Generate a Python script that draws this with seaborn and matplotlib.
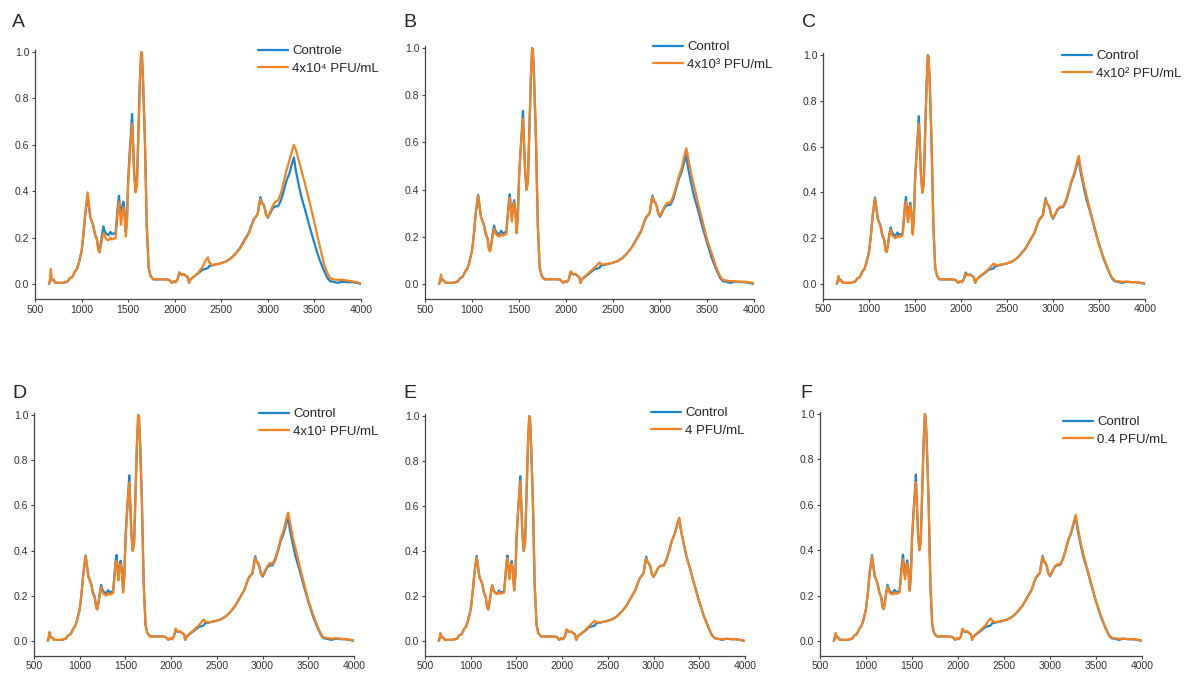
import matplotlib
matplotlib.use('Agg')
import matplotlib.pyplot as plt
import seaborn as sns
import pandas as pd

# wavenumber grid (cm-1)
wavenumber = [650, 660, 670, 680, 700, 720, 760, 800, 850, 875,
              900, 930, 950, 970, 1000, 1020, 1040, 1055, 1065, 1080,
              1095, 1110, 1125, 1145, 1165, 1180, 1192, 1205, 1220, 1235,
              1250, 1270, 1290, 1310, 1325, 1345, 1365, 1380, 1392, 1402,
              1412, 1424, 1436, 1448, 1460, 1475, 1488, 1500, 1515, 1530,
              1542, 1552, 1565, 1580, 1595, 1610, 1625, 1640, 1648, 1660,
              1680, 1700, 1720, 1740, 1770, 1800, 1850, 1900, 1940, 1970,
              1990, 2010, 2030, 2050, 2065, 2080, 2100, 2120, 2140, 2155,
              2170, 2200, 2250, 2300, 2330, 2355, 2370, 2400, 2450, 2500,
              2550, 2600, 2650, 2700, 2750, 2800, 2830, 2850, 2870, 2890,
              2905, 2920, 2935, 2950, 2965, 2980, 3000, 3020, 3050, 3080,
              3110, 3140, 3170, 3200, 3230, 3260, 3280, 3300, 3330, 3360,
              3400, 3450, 3500, 3550, 3600, 3640, 3670, 3700, 3750, 3800,
              3850, 3900, 3950, 4000]

control = [0.000, 0.015, 0.030, 0.020, 0.015, 0.005, 0.005, 0.005, 0.010, 0.025,
           0.030, 0.055, 0.065, 0.090, 0.140, 0.210, 0.300, 0.345, 0.378, 0.330,
           0.285, 0.270, 0.255, 0.215, 0.195, 0.150, 0.140, 0.170, 0.215, 0.248,
           0.225, 0.215, 0.210, 0.225, 0.215, 0.218, 0.220, 0.290, 0.350, 0.380,
           0.330, 0.280, 0.330, 0.355, 0.320, 0.225, 0.290, 0.450, 0.560, 0.650,
           0.733, 0.620, 0.480, 0.400, 0.440, 0.650, 0.860, 1.000, 0.990, 0.880,
           0.620, 0.250, 0.070, 0.035, 0.020, 0.020, 0.020, 0.020, 0.018, 0.005,
           0.012, 0.008, 0.020, 0.050, 0.042, 0.040, 0.042, 0.035, 0.030, 0.005,
           0.020, 0.030, 0.045, 0.062, 0.065, 0.068, 0.078, 0.080, 0.085, 0.090,
           0.097, 0.110, 0.130, 0.155, 0.190, 0.225, 0.260, 0.280, 0.290, 0.300,
           0.340, 0.375, 0.350, 0.345, 0.330, 0.300, 0.285, 0.300, 0.325, 0.335,
           0.335, 0.360, 0.400, 0.445, 0.475, 0.520, 0.545, 0.490, 0.430, 0.375,
           0.320, 0.245, 0.175, 0.110, 0.060, 0.025, 0.012, 0.010, 0.005, 0.010,
           0.008, 0.008, 0.005, 0.000]

pfu_4e4 = [0.000, 0.010, 0.065, 0.015, 0.020, 0.005, 0.005, 0.005, 0.012, 0.025,
           0.030, 0.055, 0.065, 0.090, 0.140, 0.215, 0.310, 0.360, 0.395, 0.340,
           0.285, 0.270, 0.250, 0.210, 0.190, 0.145, 0.135, 0.160, 0.195, 0.222,
           0.205, 0.192, 0.188, 0.200, 0.192, 0.195, 0.198, 0.270, 0.330, 0.355,
           0.310, 0.255, 0.305, 0.330, 0.295, 0.205, 0.270, 0.430, 0.540, 0.630,
           0.690, 0.600, 0.470, 0.395, 0.430, 0.640, 0.860, 1.000, 0.985, 0.880,
           0.620, 0.250, 0.070, 0.035, 0.020, 0.020, 0.020, 0.020, 0.018, 0.005,
           0.012, 0.008, 0.020, 0.050, 0.042, 0.040, 0.042, 0.035, 0.030, 0.005,
           0.020, 0.030, 0.048, 0.075, 0.100, 0.115, 0.095, 0.082, 0.085, 0.090,
           0.097, 0.110, 0.128, 0.152, 0.185, 0.222, 0.255, 0.278, 0.288, 0.300,
           0.335, 0.365, 0.345, 0.345, 0.330, 0.300, 0.288, 0.305, 0.335, 0.355,
           0.360, 0.390, 0.440, 0.490, 0.530, 0.575, 0.600, 0.580, 0.535, 0.490,
           0.430, 0.350, 0.265, 0.175, 0.090, 0.045, 0.025, 0.020, 0.018, 0.018,
           0.015, 0.012, 0.008, 0.003]

pfu_4e3 = [0.000, 0.010, 0.040, 0.015, 0.015, 0.005, 0.005, 0.005, 0.012, 0.025,
           0.030, 0.055, 0.065, 0.090, 0.140, 0.210, 0.300, 0.345, 0.375, 0.330,
           0.285, 0.268, 0.250, 0.210, 0.190, 0.145, 0.138, 0.165, 0.205, 0.235,
           0.215, 0.205, 0.200, 0.212, 0.205, 0.208, 0.212, 0.280, 0.340, 0.365,
           0.320, 0.265, 0.320, 0.345, 0.310, 0.215, 0.280, 0.440, 0.550, 0.640,
           0.700, 0.610, 0.475, 0.398, 0.435, 0.645, 0.860, 1.000, 0.990, 0.880,
           0.620, 0.250, 0.070, 0.035, 0.020, 0.020, 0.020, 0.020, 0.018, 0.005,
           0.012, 0.008, 0.020, 0.055, 0.045, 0.042, 0.042, 0.035, 0.030, 0.005,
           0.020, 0.032, 0.050, 0.068, 0.080, 0.092, 0.085, 0.082, 0.086, 0.090,
           0.097, 0.110, 0.130, 0.155, 0.190, 0.225, 0.262, 0.282, 0.292, 0.302,
           0.340, 0.370, 0.350, 0.345, 0.330, 0.302, 0.290, 0.305, 0.330, 0.345,
           0.345, 0.370, 0.410, 0.455, 0.490, 0.545, 0.575, 0.535, 0.470, 0.420,
           0.350, 0.270, 0.190, 0.130, 0.070, 0.032, 0.018, 0.015, 0.012, 0.012,
           0.010, 0.010, 0.008, 0.003]

pfu_4e2 = [0.000, 0.010, 0.035, 0.015, 0.015, 0.005, 0.005, 0.005, 0.012, 0.025,
           0.030, 0.055, 0.065, 0.090, 0.140, 0.210, 0.300, 0.345, 0.372, 0.330,
           0.285, 0.268, 0.250, 0.210, 0.190, 0.145, 0.140, 0.168, 0.208, 0.238,
           0.215, 0.205, 0.200, 0.212, 0.205, 0.208, 0.212, 0.280, 0.340, 0.360,
           0.320, 0.270, 0.320, 0.345, 0.310, 0.215, 0.285, 0.440, 0.550, 0.640,
           0.700, 0.610, 0.475, 0.398, 0.435, 0.645, 0.860, 1.000, 0.990, 0.880,
           0.620, 0.250, 0.070, 0.035, 0.020, 0.020, 0.020, 0.020, 0.018, 0.005,
           0.012, 0.008, 0.020, 0.045, 0.040, 0.038, 0.040, 0.035, 0.030, 0.005,
           0.020, 0.032, 0.048, 0.065, 0.078, 0.090, 0.085, 0.082, 0.086, 0.090,
           0.097, 0.110, 0.130, 0.155, 0.190, 0.225, 0.262, 0.282, 0.292, 0.300,
           0.340, 0.370, 0.350, 0.345, 0.330, 0.300, 0.290, 0.303, 0.328, 0.338,
           0.338, 0.365, 0.405, 0.450, 0.482, 0.530, 0.560, 0.510, 0.445, 0.395,
           0.328, 0.250, 0.168, 0.115, 0.062, 0.028, 0.015, 0.012, 0.010, 0.010,
           0.008, 0.008, 0.006, 0.003]

pfu_4e1 = [0.000, 0.010, 0.040, 0.015, 0.015, 0.005, 0.005, 0.005, 0.012, 0.025,
           0.030, 0.055, 0.065, 0.090, 0.140, 0.210, 0.300, 0.345, 0.375, 0.330,
           0.285, 0.268, 0.250, 0.210, 0.190, 0.145, 0.140, 0.168, 0.208, 0.238,
           0.215, 0.205, 0.200, 0.212, 0.205, 0.208, 0.212, 0.280, 0.338, 0.355,
           0.318, 0.268, 0.318, 0.342, 0.308, 0.215, 0.285, 0.440, 0.550, 0.640,
           0.700, 0.610, 0.475, 0.398, 0.435, 0.645, 0.860, 1.000, 0.990, 0.880,
           0.620, 0.250, 0.070, 0.035, 0.020, 0.020, 0.020, 0.020, 0.018, 0.005,
           0.012, 0.008, 0.020, 0.055, 0.045, 0.042, 0.042, 0.035, 0.030, 0.005,
           0.020, 0.032, 0.050, 0.068, 0.082, 0.095, 0.088, 0.082, 0.086, 0.090,
           0.097, 0.110, 0.130, 0.155, 0.190, 0.225, 0.262, 0.282, 0.292, 0.302,
           0.340, 0.370, 0.350, 0.345, 0.330, 0.302, 0.290, 0.305, 0.330, 0.345,
           0.342, 0.368, 0.408, 0.455, 0.490, 0.540, 0.568, 0.525, 0.460, 0.410,
           0.340, 0.260, 0.180, 0.120, 0.065, 0.030, 0.016, 0.014, 0.010, 0.012,
           0.010, 0.008, 0.006, 0.003]

pfu_4 = [0.000, 0.010, 0.035, 0.015, 0.015, 0.005, 0.005, 0.005, 0.010, 0.025,
         0.030, 0.055, 0.065, 0.090, 0.140, 0.210, 0.300, 0.345, 0.370, 0.330,
         0.285, 0.270, 0.255, 0.215, 0.195, 0.148, 0.140, 0.170, 0.212, 0.245,
         0.222, 0.212, 0.208, 0.218, 0.210, 0.212, 0.215, 0.285, 0.348, 0.368,
         0.325, 0.275, 0.325, 0.342, 0.315, 0.225, 0.290, 0.450, 0.555, 0.645,
         0.710, 0.615, 0.478, 0.400, 0.440, 0.650, 0.860, 1.000, 0.990, 0.880,
         0.620, 0.250, 0.070, 0.035, 0.020, 0.020, 0.020, 0.020, 0.018, 0.005,
         0.012, 0.008, 0.020, 0.052, 0.044, 0.040, 0.042, 0.035, 0.030, 0.005,
         0.020, 0.030, 0.048, 0.068, 0.080, 0.090, 0.085, 0.082, 0.085, 0.090,
         0.097, 0.110, 0.130, 0.155, 0.190, 0.225, 0.260, 0.280, 0.290, 0.300,
         0.340, 0.368, 0.350, 0.345, 0.330, 0.300, 0.285, 0.300, 0.325, 0.335,
         0.335, 0.360, 0.400, 0.445, 0.475, 0.520, 0.548, 0.495, 0.432, 0.378,
         0.318, 0.245, 0.172, 0.112, 0.060, 0.025, 0.012, 0.010, 0.008, 0.010,
         0.008, 0.008, 0.005, 0.000]

pfu_04 = [0.000, 0.010, 0.035, 0.015, 0.015, 0.005, 0.005, 0.005, 0.010, 0.025,
          0.030, 0.055, 0.065, 0.090, 0.140, 0.210, 0.300, 0.345, 0.372, 0.330,
          0.285, 0.270, 0.252, 0.212, 0.192, 0.148, 0.140, 0.168, 0.210, 0.240,
          0.218, 0.208, 0.205, 0.215, 0.208, 0.210, 0.214, 0.282, 0.342, 0.360,
          0.320, 0.272, 0.322, 0.342, 0.312, 0.220, 0.288, 0.445, 0.550, 0.640,
          0.700, 0.612, 0.476, 0.400, 0.438, 0.648, 0.860, 1.000, 0.990, 0.880,
          0.620, 0.250, 0.070, 0.035, 0.020, 0.020, 0.020, 0.020, 0.018, 0.005,
          0.012, 0.008, 0.020, 0.055, 0.045, 0.042, 0.042, 0.035, 0.030, 0.005,
          0.020, 0.032, 0.050, 0.070, 0.088, 0.100, 0.090, 0.082, 0.086, 0.090,
          0.097, 0.110, 0.130, 0.155, 0.190, 0.225, 0.262, 0.282, 0.292, 0.300,
          0.340, 0.370, 0.350, 0.345, 0.330, 0.300, 0.288, 0.302, 0.328, 0.338,
          0.338, 0.362, 0.402, 0.448, 0.480, 0.528, 0.555, 0.505, 0.440, 0.388,
          0.325, 0.250, 0.172, 0.115, 0.062, 0.028, 0.014, 0.012, 0.010, 0.010,
          0.008, 0.008, 0.006, 0.002]

panel_letters = ['A', 'B', 'C', 'D', 'E', 'F']
control_labels = ['Controle', 'Control', 'Control', 'Control', 'Control', 'Control']
treat_labels = ['4x10\u2074 PFU/mL', '4x10\u00b3 PFU/mL', '4x10\u00b2 PFU/mL',
                '4x10\u00b9 PFU/mL', '4 PFU/mL', '0.4 PFU/mL']
treatments = [pfu_4e4, pfu_4e3, pfu_4e2, pfu_4e1, pfu_4, pfu_04]

sns.set_style('ticks')
plt.rcParams['font.family'] = ['Liberation Sans', 'DejaVu Sans']

W, H = 1187, 673
fig = plt.figure(figsize=(W / 100, H / 100), dpi=100)

YLO, YHI = -0.065, 1.01
# pixel spots: x of 500 / 4000 ticks, y of 0.0 / 1.0 ticks
spots = [(35, 361, 284, 52), (425, 754, 284, 48), (823, 1145, 284, 55),
         (34, 354, 641, 415), (425, 745, 641, 416), (820, 1142, 641, 414)]
letter_pos = [(12, 27), (403, 27), (802, 27), (12, 398), (403, 398), (800, 398)]
# legend: x where the handle starts, y of the first row centre
legend_pos = [(258, 50), (653, 46), (1062, 55), (259, 413), (651, 412), (1063, 421)]

blue = '#1b84cf'
orange = '#f5821f'

for i in range(6):
    x5, x40, y0, y1 = spots[i]
    unit = y0 - y1
    top = y1 - (YHI - 1.0) * unit
    bot = y0 - YLO * unit
    ax = fig.add_axes([x5 / W, 1 - bot / H, (x40 - x5) / W, (bot - top) / H])
    df = pd.DataFrame({'wavenumber': wavenumber, 'control': control, 'treat': treatments[i]})
    sns.lineplot(data=df, x='wavenumber', y='control', ax=ax, color=blue, lw=1.6,
                 label=control_labels[i])
    sns.lineplot(data=df, x='wavenumber', y='treat', ax=ax, color=orange, lw=1.6,
                 label=treat_labels[i])
    ax.set_xlim(500, 4000)
    ax.set_ylim(YLO, YHI)
    ax.set_xticks([500, 1000, 1500, 2000, 2500, 3000, 3500, 4000])
    ax.set_yticks([0.0, 0.2, 0.4, 0.6, 0.8, 1.0])
    ax.set_yticklabels(['0.0', '0.2', '0.4', '0.6', '0.8', '1.0'])
    ax.set_xlabel('')
    ax.set_ylabel('')
    sns.despine(ax=ax)
    for s in ['left', 'bottom']:
        ax.spines[s].set_color('#444444')
        ax.spines[s].set_linewidth(0.9)
    ax.tick_params(labelsize=7.5, length=2.5, pad=1.5, width=0.8,
                   colors='#444444', labelcolor='#333333')
    lx, ly = legend_pos[i]
    ax.legend(loc='upper left', bbox_to_anchor=(lx / W, 1 - (ly - 5) / H),
              bbox_transform=fig.transFigure, frameon=False,
              fontsize=9.5, handlelength=2.3, handletextpad=0.3, labelspacing=0.42,
              borderaxespad=0, borderpad=0)
    fig.text(letter_pos[i][0] / W, 1 - letter_pos[i][1] / H, panel_letters[i],
             fontsize=14, ha='left', va='baseline')

fig.savefig('out.png', dpi=100)
